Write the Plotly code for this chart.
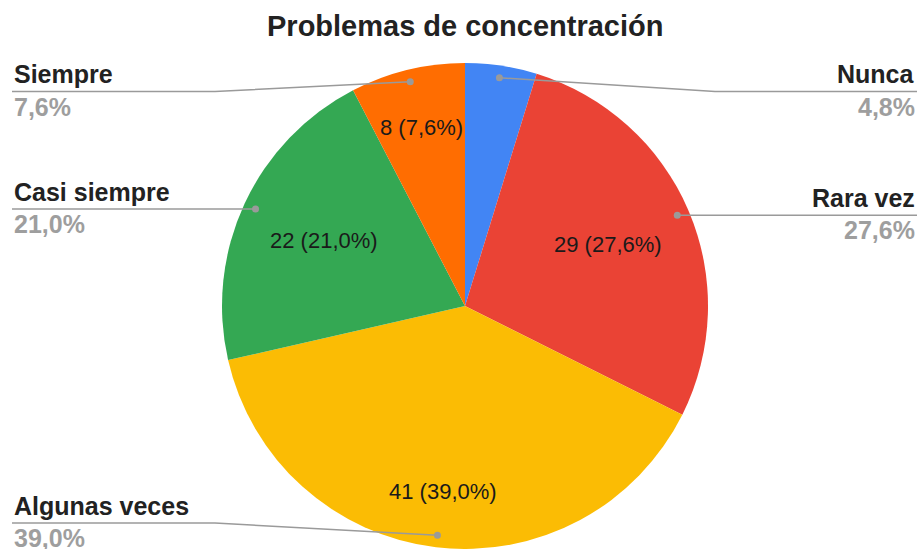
import math
import plotly.graph_objects as go

# ---- data ----
labels = ["Nunca", "Rara vez", "Algunas veces", "Casi siempre", "Siempre"]
values = [5, 29, 41, 22, 8]
colors = ["#4285F4", "#EA4335", "#FBBC04", "#34A853", "#FF6D01"]
title_text = "Problemas de concentración"

# ---- layout / style ----
W, H = 921, 549
CX, CY, R = 465, 306, 243
FONT = "Arial, Liberation Sans, sans-serif"
inside_r = {"Rara vez": 0.64, "Algunas veces": 0.77, "Casi siempre": 0.64, "Siempre": 0.755}
LINE_TOP, LINE_BOTTOM = 91.5, 523
LEFT_X, RIGHT_X = 12, 917
ELBOW = 250
LINE_COLOR = "#9a9a9a"


def px(x):
    return x / W


def py(y):
    return 1 - y / H


def fmt(p):
    return f"{p:.1f}".replace(".", ",") + "%"


total = sum(values)

fig = go.Figure(
    go.Pie(
        labels=labels,
        values=values,
        sort=False,
        direction="clockwise",
        rotation=0,
        marker=dict(colors=colors, line=dict(width=0)),
        textinfo="none",
        hovertemplate="%{label}: %{value} (%{percent})<extra></extra>",
        domain=dict(x=[px(CX - R), px(CX + R)], y=[py(CY + R), py(CY - R)]),
        showlegend=False,
    )
)

annotations = []
shapes = []
cum = 0
for lab, val in zip(labels, values):
    frac = val / total
    mid = (cum + frac / 2) * 2 * math.pi
    cum += frac
    pct = frac * 100
    sx, sy = math.sin(mid), -math.cos(mid)

    # inside label
    if pct >= 5:
        r = inside_r.get(lab, 0.65) * R
        annotations.append(dict(
            x=px(CX + r * sx), y=py(CY + r * sy), xref="paper", yref="paper",
            text=f"{val} ({fmt(pct)})", showarrow=False,
            font=dict(family=FONT, size=22, color="#1a1a1a"),
            xanchor="center", yanchor="middle",
        ))

    # dot and leader line
    dx, dy = CX + 0.95 * R * sx, CY + 0.95 * R * sy
    ly = min(max(dy, LINE_TOP), LINE_BOTTOM)
    right = sx > 0
    if right:
        ex = CX + ELBOW
        path = f"M {px(dx)},{py(dy)} L {px(ex)},{py(ly)} L {px(RIGHT_X)},{py(ly)}"
        tx, anchor = RIGHT_X, "right"
    else:
        ex = CX - ELBOW
        path = f"M {px(LEFT_X)},{py(ly)} L {px(ex)},{py(ly)} L {px(dx)},{py(dy)}"
        tx, anchor = LEFT_X, "left"
    shapes.append(dict(type="path", path=path, xref="paper", yref="paper",
                       line=dict(color=LINE_COLOR, width=1.5)))
    shapes.append(dict(type="circle", xref="paper", yref="paper",
                       x0=px(dx - 3.5), x1=px(dx + 3.5), y0=py(dy + 3.5), y1=py(dy - 3.5),
                       fillcolor=LINE_COLOR, line=dict(width=0)))
    annotations.append(dict(
        x=px(tx), y=py(ly - 17), xref="paper", yref="paper", text=f"<b>{lab}</b>",
        showarrow=False, font=dict(family=FONT, size=25, color="#222222"),
        xanchor=anchor, yanchor="middle",
    ))
    annotations.append(dict(
        x=px(tx), y=py(ly + 15), xref="paper", yref="paper", text=f"<b>{fmt(pct)}</b>",
        showarrow=False, font=dict(family=FONT, size=25, color="#9e9e9e"),
        xanchor=anchor, yanchor="middle",
    ))

annotations.append(dict(
    x=px(465), y=py(26), xref="paper", yref="paper", text=f"<b>{title_text}</b>",
    showarrow=False, font=dict(family=FONT, size=29, color="#222222"),
    xanchor="center", yanchor="middle",
))

fig.update_layout(
    width=W, height=H,
    margin=dict(l=0, r=0, t=0, b=0),
    paper_bgcolor="white",
    plot_bgcolor="white",
    annotations=annotations,
    shapes=shapes,
    showlegend=False,
)

fig.write_html(
    "out.html",
    config={"displayModeBar": False},
    post_script="document.body.style.margin='0';document.body.style.overflow='hidden';",
)
